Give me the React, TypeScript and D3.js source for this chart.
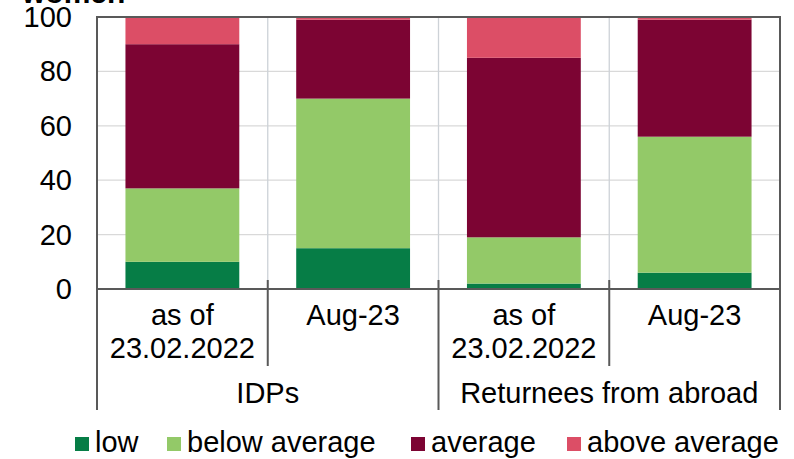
import React from "react";
import * as d3 from "d3";

const categories = ["IDPs|as of 23.02.2022", "IDPs|Aug-23", "Returnees|as of 23.02.2022", "Returnees|Aug-23"];
const tickLabels: string[][] = [["as of", "23.02.2022"], ["Aug-23"], ["as of", "23.02.2022"], ["Aug-23"]];
const groups = ["IDPs", "Returnees from abroad"];
const seriesNames = ["low", "below average", "average", "above average"];
const lowValues = [10, 15, 2, 6];
const belowAverageValues = [27, 55, 17, 50];
const averageValues = [53, 29, 66, 43];
const aboveAverageValues = [10, 1, 15, 1];
const seriesColors = ["#067D46", "#93C968", "#7C0433", "#DC4E66"];
const yTicks = [0, 20, 40, 60, 80, 100];

const W = 794, H = 459;
const L = 97, R = 780, T = 17, B = 289;
const FONT = "'Liberation Sans', Arial, sans-serif";
const FS = 29;

export default function App() {
  const x = d3.scaleBand<string>().domain(categories).range([L, R]).padding(0);
  const y = d3.scaleLinear().domain([0, 100]).range([B, T]);
  const rows = categories.map((c, i) => ({
    cat: c,
    low: lowValues[i],
    below: belowAverageValues[i],
    avg: averageValues[i],
    above: aboveAverageValues[i],
  }));
  const stack = d3.stack<any>().keys(["low", "below", "avg", "above"]);
  const layers = stack(rows);
  const bw = x.bandwidth();
  const legendX = [75, 167, 411, 567];

  return (
    <svg width={W} height={H} style={{ position: "absolute", left: 0, top: 0, background: "#fff" }} fontFamily={FONT}>
      <text x={22} y={3} fontSize={30} fontWeight="bold" fill="#000">women</text>
      {/* horizontal gridlines */}
      {yTicks.filter(t => t > 0 && t < 100).map(t => (
        <line key={"h" + t} x1={L} x2={R} y1={y(t)} y2={y(t)} stroke="#D9D9D9" strokeWidth={1.3} />
      ))}
      {/* vertical gridlines */}
      {categories.slice(1).map(c => (
        <line key={"v" + c} x1={x(c)!} x2={x(c)!} y1={T} y2={B} stroke="#CDD2D7" strokeWidth={1.3} />
      ))}
      {/* bars */}
      {layers.map((layer, si) => (
        <g key={si} fill={seriesColors[si]}>
          {layer.map((d, i) => (
            <rect key={i} x={x(categories[i])! + bw / 6} width={(bw * 2) / 3}
              y={y(d[1])} height={y(d[0]) - y(d[1])} />
          ))}
        </g>
      ))}
      {/* border */}
      <rect x={L} y={T} width={R - L} height={B - T} fill="none" stroke="#595959" strokeWidth={2} />
      {/* category ticks */}
      {[0, 1, 2, 3, 4].map(i => {
        const xx = i < 4 ? x(categories[i])! : R;
        const isGroup = i % 2 === 0;
        return <line key={"t" + i} x1={xx} x2={xx} y1={i === 0 ? T : B - 9} y2={isGroup ? 410 : 366} stroke="#595959" strokeWidth={2} />;
      })}
      {/* y tick labels */}
      {yTicks.map(t => (
        <text key={"y" + t} x={72} y={y(t) + 10} textAnchor="end" fontSize={FS} fill="#000">{t}</text>
      ))}
      {/* category labels */}
      {categories.map((c, i) => (
        <text key={"c" + i} x={x(c)! + bw / 2} textAnchor="middle" fontSize={FS} fill="#000">
          {tickLabels[i].map((line, j) => (
            <tspan key={j} x={x(c)! + bw / 2} y={325 + j * 33}>{line}</tspan>
          ))}
        </text>
      ))}
      {/* group labels */}
      {groups.map((g, gi) => {
        const x0 = x(categories[gi * 2])!;
        const x1 = x0 + bw * 2;
        return <text key={"g" + gi} x={(x0 + x1) / 2} y={403} textAnchor="middle" fontSize={FS} fill="#000">{g}</text>;
      })}
      {/* legend */}
      {seriesNames.map((n, i) => (
        <g key={"l" + i}>
          <rect x={legendX[i]} y={437} width={14} height={14} fill={seriesColors[i]} />
          <text x={legendX[i] + 20} y={452} fontSize={FS} fill="#000">{n}</text>
        </g>
      ))}
    </svg>
  );
}
